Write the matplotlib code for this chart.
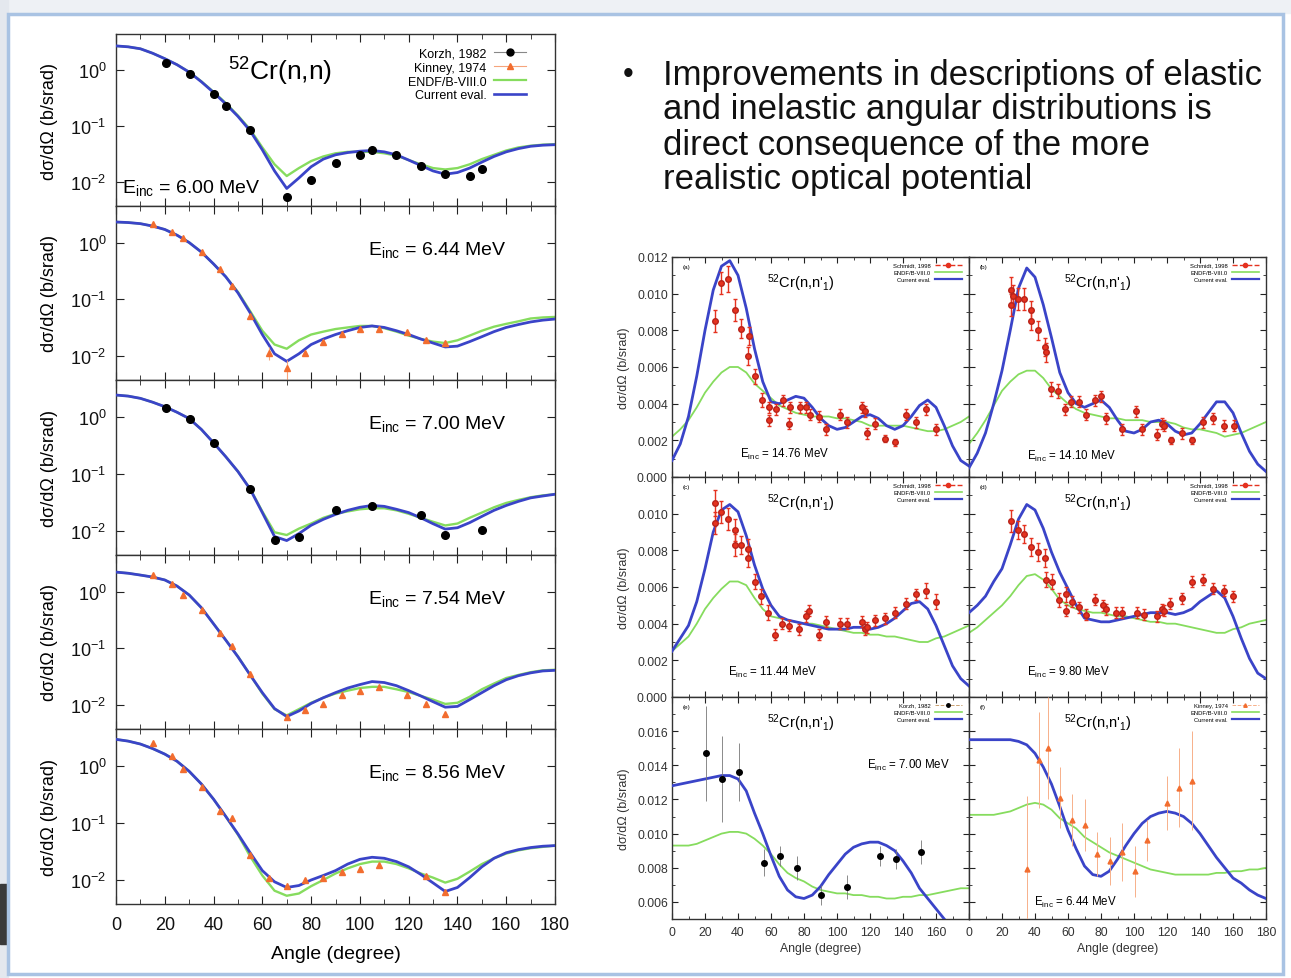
import numpy as np
import matplotlib
matplotlib.use('Agg')
import matplotlib.pyplot as plt
from matplotlib.lines import Line2D
from matplotlib.patches import Rectangle
from matplotlib.ticker import MultipleLocator, NullLocator, FixedLocator

plt.rcParams['font.family'] = ['Liberation Sans', 'DejaVu Sans']
plt.rcParams['mathtext.fontset'] = 'custom'
plt.rcParams['mathtext.rm'] = 'Liberation Sans'
plt.rcParams['mathtext.it'] = 'Liberation Sans:italic'
plt.rcParams['mathtext.bf'] = 'Liberation Sans:bold'

W, H = 1291, 979
BLUE = '#3a44c8'
GREEN = '#86dc5e'
RED = '#e5321f'
ORANGE = '#f26d2f'

# angle grid of the calculated curves (degrees)
ANG = np.arange(0, 181, 5)

# ---- elastic 52Cr(n,n), b/srad ----
el600_blue = [2.7, 2.6, 2.4, 2.0, 1.6, 1.25, 0.92, 0.62, 0.40, 0.25, 0.15, 0.083, 0.038, 0.016, 0.0078, 0.012, 0.019,
              0.026, 0.031, 0.034, 0.036, 0.037, 0.035, 0.031, 0.025, 0.020, 0.016, 0.014, 0.015, 0.018, 0.023, 0.029,
              0.035, 0.040, 0.044, 0.046, 0.047]
el600_green = [2.7, 2.6, 2.4, 2.0, 1.6, 1.25, 0.93, 0.63, 0.41, 0.26, 0.155, 0.088, 0.042, 0.021, 0.013, 0.018, 0.024,
               0.029, 0.033, 0.035, 0.035, 0.035, 0.033, 0.030, 0.025, 0.021, 0.018, 0.017, 0.018, 0.021, 0.026, 0.031,
               0.037, 0.042, 0.045, 0.047, 0.048]
el600_x = [20.3, 30.2, 40, 45, 55, 70, 80, 90, 100, 105, 115, 125, 135, 145, 150]
el600_y = [1.35, 0.85, 0.38, 0.23, 0.085, 0.0056, 0.011, 0.022, 0.031, 0.038, 0.031, 0.020, 0.014, 0.013, 0.017]

el644_blue = [2.3, 2.25, 2.15, 1.95, 1.7, 1.35, 1.0, 0.68, 0.42, 0.25, 0.13, 0.058, 0.024, 0.011, 0.0081, 0.011, 0.016,
              0.020, 0.024, 0.028, 0.032, 0.034, 0.032, 0.028, 0.024, 0.020, 0.017, 0.0145, 0.015, 0.018, 0.022, 0.027,
              0.032, 0.036, 0.040, 0.043, 0.045]
el644_green = [2.3, 2.25, 2.15, 1.95, 1.7, 1.35, 1.0, 0.68, 0.42, 0.25, 0.135, 0.062, 0.028, 0.016, 0.0135, 0.019, 0.024,
               0.027, 0.030, 0.032, 0.034, 0.034, 0.031, 0.027, 0.023, 0.020, 0.018, 0.017, 0.019, 0.023, 0.028, 0.033,
               0.037, 0.041, 0.046, 0.048, 0.049]
el644_x = [15.3, 22.8, 27.5, 35.2, 42.7, 47.4, 55.0, 62.8, 70.0, 77.6, 85.0, 92.5, 100.0, 107.7, 119.4, 127.0, 134.7]
el644_y = [2.1, 1.55, 1.19, 0.69, 0.34, 0.17, 0.05, 0.0114, 0.0062, 0.0114, 0.018, 0.025, 0.030, 0.030, 0.027, 0.019, 0.017]
el644_err = [0.1, 0.07, 0.05, 0.03, 0.015, 0.008, 0.003, 0.003, 0.0025, 0.0015, 0.002, 0.002, 0.002, 0.002, 0.002,
             0.0015, 0.0015]

el700_blue = [2.4, 2.3, 2.1, 1.8, 1.5, 1.2, 0.93, 0.6, 0.35, 0.2, 0.11, 0.054, 0.021, 0.0080, 0.0068, 0.0090, 0.0126,
              0.016, 0.0195, 0.023, 0.026, 0.028, 0.027, 0.024, 0.021, 0.017, 0.0134, 0.0108, 0.0114, 0.014, 0.018,
              0.023, 0.028, 0.033, 0.038, 0.041, 0.044]
el700_green = [2.4, 2.3, 2.1, 1.8, 1.5, 1.2, 0.93, 0.6, 0.35, 0.2, 0.11, 0.055, 0.022, 0.0095, 0.0085, 0.011, 0.0135,
               0.017, 0.020, 0.022, 0.024, 0.025, 0.025, 0.023, 0.020, 0.017, 0.0145, 0.0125, 0.0135, 0.017, 0.021,
               0.026, 0.031, 0.035, 0.039, 0.042, 0.044]
el700_x = [20.3, 30.2, 40, 55, 65, 75, 90, 105, 125, 135, 150]
el700_y = [1.45, 0.93, 0.35, 0.054, 0.0069, 0.0080, 0.023, 0.027, 0.019, 0.0084, 0.0104]

el754_blue = [2.2, 2.1, 1.95, 1.8, 1.6, 1.25, 0.87, 0.52, 0.27, 0.14, 0.071, 0.034, 0.0166, 0.0087, 0.0063, 0.0079,
              0.0107, 0.0135, 0.0166, 0.020, 0.023, 0.026, 0.025, 0.022, 0.018, 0.0145, 0.0115, 0.0092, 0.0095, 0.0125,
              0.0166, 0.022, 0.028, 0.033, 0.037, 0.040, 0.041]
el754_green = [2.2, 2.1, 1.95, 1.8, 1.6, 1.25, 0.87, 0.52, 0.27, 0.14, 0.072, 0.034, 0.016, 0.0085, 0.0066, 0.0085,
               0.011, 0.0135, 0.016, 0.018, 0.020, 0.021, 0.021, 0.019, 0.017, 0.0145, 0.0125, 0.0105, 0.011, 0.014,
               0.019, 0.024, 0.030, 0.034, 0.038, 0.041, 0.042]
el754_x = [15.3, 22.8, 27.5, 35.2, 42.7, 47.4, 55, 70, 77.6, 85, 92.5, 100, 107.7, 119.4, 127, 134.7]
el754_y = [1.93, 1.34, 0.86, 0.47, 0.19, 0.11, 0.036, 0.0062, 0.0083, 0.0105, 0.015, 0.0178, 0.0205, 0.0152, 0.0105,
           0.0069]
el754_err = [0.08, 0.06, 0.04, 0.02, 0.01, 0.005, 0.002, 0.0008, 0.0008, 0.0008, 0.001, 0.001, 0.001, 0.001, 0.0008,
             0.0008]

el856_blue = [2.9, 2.7, 2.4, 2.0, 1.6, 1.2, 0.8, 0.48, 0.26, 0.13, 0.064, 0.030, 0.0146, 0.0093, 0.0074, 0.0080, 0.010,
              0.012, 0.0146, 0.019, 0.023, 0.025, 0.024, 0.021, 0.017, 0.0125, 0.0089, 0.0063, 0.0074, 0.011, 0.017,
              0.024, 0.030, 0.034, 0.037, 0.039, 0.040]
el856_green = [2.9, 2.7, 2.4, 2.0, 1.6, 1.2, 0.8, 0.48, 0.26, 0.13, 0.062, 0.026, 0.012, 0.0065, 0.0053, 0.0058, 0.0078,
               0.010, 0.013, 0.016, 0.019, 0.021, 0.021, 0.019, 0.016, 0.013, 0.011, 0.009, 0.0105, 0.014, 0.019, 0.024,
               0.029, 0.033, 0.036, 0.038, 0.040]
el856_x = [15.3, 22.8, 27.5, 35.2, 42.7, 47.4, 55, 62.8, 70, 77.6, 85, 92.5, 100, 107.7, 127, 134.7]
el856_y = [2.5, 1.46, 0.89, 0.42, 0.16, 0.12, 0.027, 0.0108, 0.0080, 0.010, 0.0108, 0.014, 0.0157, 0.018, 0.0117,
           0.0061]
el856_err = [0.1, 0.07, 0.04, 0.02, 0.008, 0.006, 0.0015, 0.0008, 0.0008, 0.0008, 0.0008, 0.001, 0.001, 0.001, 0.0008,
             0.0006]

# ---- inelastic 52Cr(n,n'1), b/srad ----
a_blue = [0.0009, 0.0018, 0.0033, 0.0055, 0.0080, 0.0102, 0.0115, 0.0118, 0.0110, 0.0092, 0.0070, 0.0052, 0.0041,
          0.0040, 0.0042, 0.0044, 0.0043, 0.0038, 0.0032, 0.0028, 0.0026, 0.0027, 0.0030, 0.0033, 0.0034, 0.0032,
          0.0028, 0.0026, 0.0028, 0.0033, 0.0039, 0.0042, 0.0038, 0.0028, 0.0017, 0.0009, 0.0006]
a_green = [0.0022, 0.0026, 0.0031, 0.0038, 0.0046, 0.0052, 0.0057, 0.0060, 0.0060, 0.0057, 0.0051, 0.0047, 0.0043,
           0.0039, 0.0037, 0.0035, 0.0034, 0.0033, 0.0033, 0.0033, 0.0032, 0.0032, 0.0031, 0.0030, 0.0028, 0.0028,
           0.0028, 0.0028, 0.0028, 0.0027, 0.0026, 0.0025, 0.0025, 0.0026, 0.0028, 0.0030, 0.0033]
a_x = [25.9, 29.9, 34.0, 38.0, 42.0, 46.0, 46.4, 50.0, 54.6, 58.7, 59.0, 63.0, 67.0, 71.0, 71.4, 77.5, 81.5, 83.5, 89.0,
       93.6, 101.7, 105.8, 115.0, 117.0, 118.0, 123.0, 129.0, 135.0, 142.0, 148.0, 154.0, 160.0]
a_y = [0.0085, 0.0106, 0.0108, 0.0091, 0.0081, 0.0066, 0.0077, 0.0055, 0.0042, 0.0031, 0.0038, 0.0037, 0.0042, 0.0029,
       0.0038, 0.0038, 0.0038, 0.0034, 0.0033, 0.0026, 0.0034, 0.0030, 0.0038, 0.0036, 0.0024, 0.0029, 0.0021, 0.0019,
       0.0034, 0.0030, 0.0037, 0.0026]
a_err = [0.0006, 0.0006, 0.0007, 0.0006, 0.0005, 0.0005, 0.0005, 0.0004, 0.0004, 0.0003, 0.0003, 0.0003, 0.0003,
         0.0003, 0.0003, 0.0003, 0.0003, 0.0003, 0.0003, 0.0003, 0.0003, 0.0003, 0.0003, 0.0003, 0.0003, 0.0003,
         0.0002, 0.0002, 0.0003, 0.0003, 0.0003, 0.0003]

b_blue = [0.0005, 0.0013, 0.0024, 0.0040, 0.0058, 0.0080, 0.0103, 0.0114, 0.0109, 0.0094, 0.0076, 0.0057, 0.0046,
          0.0040, 0.0038, 0.0040, 0.0042, 0.0038, 0.0031, 0.0025, 0.0024, 0.0026, 0.0030, 0.0031, 0.0029, 0.0025,
          0.0023, 0.0024, 0.0029, 0.0035, 0.0041, 0.0041, 0.0035, 0.0024, 0.0014, 0.0007, 0.0003]
b_green = [0.0018, 0.0024, 0.0031, 0.0039, 0.0047, 0.0052, 0.0056, 0.0058, 0.0058, 0.0054, 0.0048, 0.0044, 0.0040,
           0.0037, 0.0035, 0.0034, 0.0033, 0.0032, 0.0032, 0.0031, 0.0031, 0.0031, 0.0030, 0.0030, 0.0030, 0.0029,
           0.0027, 0.0026, 0.0026, 0.0025, 0.0024, 0.0022, 0.0023, 0.0024, 0.0026, 0.0028, 0.0030]
b_x = [25.4, 25.6, 26.8, 29.5, 33.6, 37.6, 37.8, 41.7, 45.8, 46.4, 49.8, 53.9, 58.0, 62.0, 66.7, 70.8, 76.3, 80.3, 83.0,
       93.0, 101.0, 105.0, 114.0, 117.0, 118.4, 122.4, 129.0, 135.0, 142.0, 148.0, 154.6, 160.6]
b_y = [0.0102, 0.0094, 0.0099, 0.0097, 0.0097, 0.0091, 0.0085, 0.0080, 0.0071, 0.0068, 0.0048, 0.0047, 0.0037, 0.0041,
       0.0041, 0.0034, 0.0042, 0.0044, 0.0032, 0.0026, 0.0036, 0.0026, 0.0023, 0.0029, 0.0028, 0.0020, 0.0024, 0.0020,
       0.0030, 0.0032, 0.0028, 0.0028]
b_err = [0.0007, 0.0006, 0.0006, 0.0006, 0.0006, 0.0005, 0.0005, 0.0005, 0.0005, 0.0005, 0.0004, 0.0004, 0.0003,
         0.0003, 0.0003, 0.0003, 0.0003, 0.0003, 0.0003, 0.0003, 0.0003, 0.0003, 0.0003, 0.0003, 0.0003, 0.0002,
         0.0003, 0.0002, 0.0003, 0.0003, 0.0003, 0.0003]

c_blue = [0.0025, 0.0032, 0.0039, 0.0052, 0.0070, 0.0090, 0.0102, 0.0105, 0.0101, 0.0088, 0.0072, 0.0059, 0.0050,
          0.0044, 0.0042, 0.0041, 0.0040, 0.0039, 0.0038, 0.0037, 0.0037, 0.0037, 0.0038, 0.0038, 0.0037, 0.0038,
          0.0040, 0.0043, 0.0047, 0.0051, 0.0052, 0.0048, 0.0039, 0.0028, 0.0017, 0.0010, 0.0006]
c_green = [0.0025, 0.0029, 0.0033, 0.0040, 0.0048, 0.0054, 0.0059, 0.0063, 0.0063, 0.0061, 0.0054, 0.0048, 0.0044,
           0.0043, 0.0042, 0.0041, 0.0040, 0.0040, 0.0039, 0.0038, 0.0037, 0.0036, 0.0035, 0.0035, 0.0034, 0.0034,
           0.0033, 0.0033, 0.0032, 0.0031, 0.0030, 0.0030, 0.0032, 0.0033, 0.0035, 0.0037, 0.0039]
c_x = [25.9, 26.1, 29.9, 34.0, 38.0, 38.3, 42.0, 46.0, 46.3, 50.0, 54.2, 58.3, 62.7, 66.7, 70.8, 77.0, 81.5, 83.0, 89.0,
       93.6, 101.7, 105.8, 115.0, 117.0, 118.0, 123.0, 129.0, 135.0, 141.8, 147.9, 154.0, 160.0]
c_y = [0.0106, 0.0095, 0.0101, 0.0097, 0.0091, 0.0083, 0.0083, 0.0081, 0.0076, 0.0063, 0.0055, 0.0046, 0.0034, 0.0040,
       0.0039, 0.0037, 0.0044, 0.0047, 0.0034, 0.0041, 0.0040, 0.0040, 0.0041, 0.0037, 0.0038, 0.0042, 0.0043, 0.0046,
       0.0051, 0.0056, 0.0058, 0.0052]
c_err = [0.0007, 0.0006, 0.0006, 0.0006, 0.0006, 0.0006, 0.0005, 0.0005, 0.0005, 0.0004, 0.0004, 0.0004, 0.0003,
         0.0003, 0.0003, 0.0003, 0.0003, 0.0003, 0.0003, 0.0003, 0.0003, 0.0003, 0.0003, 0.0003, 0.0003, 0.0003,
         0.0003, 0.0003, 0.0003, 0.0003, 0.0004, 0.0004]

d_blue = [0.0046, 0.0050, 0.0055, 0.0063, 0.0070, 0.0083, 0.0097, 0.0105, 0.0102, 0.0092, 0.0079, 0.0068, 0.0059,
          0.0050, 0.0043, 0.0042, 0.0041, 0.0041, 0.0042, 0.0043, 0.0044, 0.0045, 0.0046, 0.0046, 0.0046, 0.0045,
          0.0046, 0.0048, 0.0052, 0.0055, 0.0058, 0.0054, 0.0044, 0.0032, 0.0021, 0.0013, 0.0010]
d_green = [0.0035, 0.0038, 0.0042, 0.0046, 0.0050, 0.0055, 0.0061, 0.0066, 0.0067, 0.0064, 0.0059, 0.0053, 0.0050,
           0.0048, 0.0047, 0.0046, 0.0046, 0.0045, 0.0044, 0.0044, 0.0043, 0.0042, 0.0041, 0.0041, 0.0040, 0.0040,
           0.0039, 0.0038, 0.0037, 0.0036, 0.0035, 0.0035, 0.0037, 0.0038, 0.0040, 0.0041, 0.0042]
d_x = [25.4, 29.5, 33.6, 37.6, 41.7, 45.8, 46.4, 50.4, 54.5, 58.6, 58.9, 62.6, 66.7, 70.8, 76.3, 81.0, 83.0, 89.0, 93.0,
       101.7, 105.8, 114.0, 117.0, 118.4, 122.0, 129.0, 135.0, 142.0, 148.0, 154.6, 160.0]
d_y = [0.0096, 0.0091, 0.0089, 0.0082, 0.0079, 0.0076, 0.0064, 0.0063, 0.0053, 0.0047, 0.0056, 0.0052, 0.0049, 0.0045,
       0.0053, 0.0050, 0.0048, 0.0046, 0.0046, 0.0046, 0.0045, 0.0044, 0.0048, 0.0047, 0.0051, 0.0054, 0.0063, 0.0064,
       0.0059, 0.0058, 0.0055]
d_err = [0.0006, 0.0005, 0.0005, 0.0005, 0.0005, 0.0005, 0.0004, 0.0004, 0.0004, 0.0003, 0.0004, 0.0003, 0.0003,
         0.0003, 0.0003, 0.0003, 0.0003, 0.0003, 0.0003, 0.0003, 0.0003, 0.0003, 0.0003, 0.0003, 0.0003, 0.0003,
         0.0003, 0.0003, 0.0003, 0.0003, 0.0003]

e_blue = [0.0128, 0.0129, 0.0130, 0.0131, 0.0132, 0.0133, 0.0134, 0.0134, 0.0132, 0.0125, 0.0112, 0.0100, 0.0087,
          0.0075, 0.0067, 0.0063, 0.0062, 0.0064, 0.0069, 0.0076, 0.0082, 0.0088, 0.0092, 0.0094, 0.0095, 0.0095,
          0.0093, 0.0090, 0.0084, 0.0077, 0.0068, 0.0062, 0.0056, 0.0050, 0.0044, 0.0038, 0.0034]
e_green = [0.0093, 0.0093, 0.0093, 0.0094, 0.0096, 0.0098, 0.0100, 0.0101, 0.0101, 0.0100, 0.0097, 0.0093, 0.0088,
           0.0082, 0.0077, 0.0074, 0.0072, 0.0069, 0.0067, 0.0066, 0.0065, 0.0065, 0.0064, 0.0064, 0.0063, 0.0063,
           0.0062, 0.0062, 0.0063, 0.0063, 0.0064, 0.0064, 0.0065, 0.0066, 0.0067, 0.0068, 0.0068]
e_x = [20.8, 30.5, 40.7, 55.6, 65.7, 75.8, 90.6, 105.8, 126.0, 135.7, 150.7]
e_y = [0.0147, 0.0132, 0.0136, 0.0083, 0.0087, 0.0080, 0.0064, 0.0069, 0.0087, 0.0085, 0.0089]
e_err = [0.0028, 0.0025, 0.0017, 0.0008, 0.0006, 0.0007, 0.0006, 0.0007, 0.0006, 0.0006, 0.0007]

f_blue = [0.0155, 0.0155, 0.0155, 0.0155, 0.0155, 0.0155, 0.0154, 0.0152, 0.0147, 0.0139, 0.0129, 0.0116, 0.0102,
          0.0091, 0.0081, 0.0076, 0.0075, 0.0078, 0.0085, 0.0093, 0.0100, 0.0106, 0.0110, 0.0112, 0.0113, 0.0112,
          0.0110, 0.0106, 0.0100, 0.0093, 0.0086, 0.0080, 0.0074, 0.0071, 0.0067, 0.0064, 0.0062]
f_green = [0.0111, 0.0111, 0.0111, 0.0111, 0.0112, 0.0113, 0.0115, 0.0117, 0.0118, 0.0117, 0.0114, 0.0109, 0.0106,
           0.0103, 0.0098, 0.0095, 0.0092, 0.0089, 0.0087, 0.0085, 0.0083, 0.0081, 0.0079, 0.0078, 0.0077, 0.0076,
           0.0076, 0.0076, 0.0076, 0.0076, 0.0077, 0.0077, 0.0078, 0.0078, 0.0079, 0.0079, 0.0080]
f_x = [35.2, 42.7, 47.8, 55.0, 62.6, 70.0, 77.7, 85.4, 93.0, 100.7, 108.0, 120.0, 127.5, 135.0]
f_y = [0.0079, 0.0143, 0.0150, 0.0121, 0.0108, 0.0105, 0.0088, 0.0084, 0.0089, 0.0078, 0.0096, 0.0118, 0.0127, 0.0131]
f_err = [0.0043, 0.0028, 0.0030, 0.0018, 0.0015, 0.0015, 0.0013, 0.0014, 0.0017, 0.0015, 0.0012, 0.0016, 0.0023,
         0.0029]

bullet_lines = ['Improvements in descriptions of elastic',
                'and inelastic angular distributions is',
                'direct consequence of the more',
                'realistic optical potential']

fig = plt.figure(figsize=(W / 100, H / 100), dpi=100)
fig.patch.set_facecolor('white')


def px_axes(x0, y0, x1, y1):
    return fig.add_axes([x0 / W, 1 - y1 / H, (x1 - x0) / W, (y1 - y0) / H])


def frame(ax, size, major, minor, color):
    ax.tick_params(which='both', direction='in', top=True, right=True, labelsize=size, colors='#222',
                   labelcolor=color)
    ax.tick_params(which='major', length=major, width=0.8)
    ax.tick_params(which='minor', length=minor, width=0.6)
    for sp in ax.spines.values():
        sp.set_linewidth(1.0)
        sp.set_color('#333')


# slide background and frame
fig.patches.append(Rectangle((0, 1 - 14 / H), 1, 14 / H, transform=fig.transFigure, color='#eef1f5', zorder=0))
fig.patches.append(Rectangle((0, 0), 8 / W, 1, transform=fig.transFigure, color='#e4e8ee', zorder=0))
fig.patches.append(Rectangle((0, 1 - 945 / H), 7 / W, 60 / H, transform=fig.transFigure, color='#3a3a3a', zorder=0))
fig.patches.append(Rectangle((8 / W, 1 - 975 / H), 1275 / W, 960 / H, transform=fig.transFigure, fill=False,
                             edgecolor='#a9c3e3', lw=2.5, zorder=1))

# ---------------- elastic panels (left) ----------------
elastic = [
    ('6.00', el600_blue, el600_green, 'korzh', el600_x, el600_y, None),
    ('6.44', el644_blue, el644_green, 'kinney', el644_x, el644_y, el644_err),
    ('7.00', el700_blue, el700_green, 'korzh', el700_x, el700_y, None),
    ('7.54', el754_blue, el754_green, 'kinney', el754_x, el754_y, el754_err),
    ('8.56', el856_blue, el856_green, 'kinney', el856_x, el856_y, el856_err),
]
edges = [35, 207, 381, 556, 730, 905]

for i, (en, blue, green, src, dx, dy, derr) in enumerate(elastic):
    ax = px_axes(116, edges[i], 555, edges[i + 1])
    ax.plot(ANG, green, color=GREEN, lw=1.7, zorder=2)
    ax.plot(ANG, blue, color=BLUE, lw=2.0, zorder=3)
    if src == 'korzh':
        ax.plot(dx, dy, 'o', color='black', ms=5.5, zorder=4)
    else:
        ax.errorbar(dx, dy, yerr=derr, fmt='^', color=ORANGE, ms=5, ecolor='#f6a47c', elinewidth=0.8,
                    capsize=0, zorder=4)
    ax.set_yscale('log')
    ax.set_xlim(0, 180)
    ax.set_ylim(0.0038, 4.4)
    ax.yaxis.set_major_locator(FixedLocator([1e-2, 1e-1, 1e0]))
    ax.yaxis.set_minor_locator(NullLocator())
    ax.set_yticklabels([r'$10^{-2}$', r'$10^{-1}$', r'$10^{0}$'])
    ax.xaxis.set_major_locator(MultipleLocator(20))
    ax.xaxis.set_minor_locator(MultipleLocator(10))
    frame(ax, 13, 6, 3.5, '#111')
    ax.tick_params(axis='y', pad=7)
    ax.tick_params(axis='x', pad=9)
    if i < 4:
        ax.tick_params(axis='x', labelbottom=False)
    else:
        ax.set_xlabel('Angle (degree)', fontsize=14, labelpad=8)
    fig.text(50 / W, 1 - (edges[i] + edges[i + 1]) / 2 / H, u'd\u03c3/d\u03a9 (b/srad)', rotation=90,
             ha='center', va='center', fontsize=13)
    if i == 0:
        ax.text(0.255, 0.785, r'$^{52}$Cr(n,n)', transform=ax.transAxes, fontsize=19, va='center')
        ax.text(0.014, 0.11, r'E$_{\rm inc}$ = %s MeV' % en, transform=ax.transAxes, fontsize=14, va='center')
        handles = [Line2D([], [], color='#888', lw=0.8, marker='o', mfc='k', mec='k', ms=5),
                   Line2D([], [], color='#f6a47c', lw=0.8, marker='^', mfc=ORANGE, mec=ORANGE, ms=4.5),
                   Line2D([], [], color=GREEN, lw=1.6),
                   Line2D([], [], color=BLUE, lw=1.9)]
        ax.legend(handles, ['Korzh, 1982', 'Kinney, 1974', 'ENDF/B-VIII.0', 'Current eval.'], loc='upper right',
                  bbox_to_anchor=(0.935, 0.92), markerfirst=False, frameon=False, fontsize=9, handlelength=2.6,
                  labelspacing=0.15, handletextpad=0.6, borderpad=0, borderaxespad=0)
    else:
        ax.text(0.574, 0.753, r'E$_{\rm inc}$ = %s MeV' % en, transform=ax.transAxes, fontsize=14, va='center')

# ---------------- inelastic panels (right) ----------------
inelastic = [
    (0, 0, '(a)', '14.76', a_blue, a_green, 'Schmidt, 1998', a_x, a_y, a_err, (0.229, 0.105)),
    (0, 1, '(b)', '14.10', b_blue, b_green, 'Schmidt, 1998', b_x, b_y, b_err, (0.195, 0.10)),
    (1, 0, '(c)', '11.44', c_blue, c_green, 'Schmidt, 1998', c_x, c_y, c_err, (0.189, 0.114)),
    (1, 1, '(d)', '9.80', d_blue, d_green, 'Schmidt, 1998', d_x, d_y, d_err, (0.195, 0.114)),
    (2, 0, '(e)', '7.00', e_blue, e_green, 'Korzh, 1982', e_x, e_y, e_err, (0.657, 0.697)),
    (2, 1, '(f)', '6.44', f_blue, f_green, 'Kinney, 1974', f_x, f_y, f_err, (0.219, 0.077)),
]
xe = [672, 969, 1266]
ye = [258, 478, 698, 920]

for row, col, tag, en, blue, green, src, dx, dy, derr, epos in inelastic:
    ax = px_axes(xe[col], ye[row], xe[col + 1], ye[row + 1])
    ax.plot(ANG, green, color=GREEN, lw=1.3, zorder=2)
    ax.plot(ANG, blue, color=BLUE, lw=2.0, zorder=3)
    if src.startswith('Schmidt'):
        ax.errorbar(dx, dy, yerr=derr, fmt='o', color=RED, mec='#b8231a', ms=4, ecolor=RED, elinewidth=1.0,
                    capsize=1.5, zorder=4)
        h = Line2D([], [], color=RED, ls='--', lw=1.0, marker='o', ms=3)
    elif src.startswith('Korzh'):
        ax.errorbar(dx, dy, yerr=derr, fmt='o', color='black', ms=4, ecolor='#777', elinewidth=0.6, capsize=0,
                    zorder=4)
        h = Line2D([], [], color='#c9a070', ls='--', lw=0.7, marker='o', mfc='k', mec='k', ms=2.5)
    else:
        ax.errorbar(dx, dy, yerr=derr, fmt='^', color=ORANGE, ms=3.5, ecolor='#f7b08a', elinewidth=0.7,
                    capsize=0, zorder=4)
        h = Line2D([], [], color='#f7b08a', ls='--', lw=0.7, marker='^', mfc=ORANGE, mec=ORANGE, ms=2.5)
    ax.legend([h, Line2D([], [], color=GREEN, lw=1.2), Line2D([], [], color=BLUE, lw=1.6)],
              [src, 'ENDF/B-VIII.0', 'Current eval.'], loc='upper right', bbox_to_anchor=(0.975, 0.975),
              markerfirst=False, frameon=False, fontsize=4.2, handlelength=4.5, labelspacing=0.35,
              handletextpad=0.8, borderpad=0, borderaxespad=0)
    ax.text(0.037, 0.955, tag, transform=ax.transAxes, fontsize=4.5, va='center')
    ax.text(0.435, 0.886, r"$^{52}$Cr(n,n$'_{1}$)", transform=ax.transAxes, fontsize=10.5, ha='center',
            va='center')
    ax.text(epos[0], epos[1], r'E$_{\rm inc}$ = %s MeV' % en, transform=ax.transAxes, fontsize=8.3, va='center')
    ax.set_xlim(0, 180)
    ax.xaxis.set_major_locator(MultipleLocator(20))
    ax.xaxis.set_minor_locator(MultipleLocator(10))
    if row < 2:
        ax.set_ylim(0, 0.012)
        ticks = [0.000, 0.002, 0.004, 0.006, 0.008, 0.010, 0.012]
    else:
        ax.set_ylim(0.005, 0.018)
        ticks = [0.006, 0.008, 0.010, 0.012, 0.014, 0.016]
    ax.yaxis.set_major_locator(FixedLocator(ticks))
    ax.yaxis.set_minor_locator(MultipleLocator(0.001))
    frame(ax, 8.8, 4, 2, '#333')
    ax.tick_params(axis='y', pad=3)
    ax.tick_params(axis='x', pad=5)
    if col == 0:
        ax.set_yticklabels(['%.3f' % t if (row != 1 or t < 0.012) else '' for t in ticks])
        ax.set_ylabel(u'd\u03c3/d\u03a9 (b/srad)', fontsize=9, labelpad=5, color='#333')
    else:
        ax.tick_params(axis='y', labelleft=False)
    if row == 2:
        xt = list(range(0, 181, 20))
        ax.set_xticks(xt)
        ax.set_xticklabels([str(v) if (col == 1 or v < 180) else '' for v in xt])
        ax.set_xlabel('Angle (degree)', fontsize=8.8, labelpad=3, color='#333')
    else:
        ax.tick_params(axis='x', labelbottom=False)

# ---------------- bullet text ----------------
fig.text(628 / W, 1 - 75 / H, u'\u2022', fontsize=22, ha='center', va='center', color='#111')
for k, line in enumerate(bullet_lines):
    fig.text(663 / W, 1 - (75 + 35 * k) / H, line, fontsize=25, ha='left', va='center', color='#111')

fig.savefig('out.png', dpi=100, facecolor='white')
